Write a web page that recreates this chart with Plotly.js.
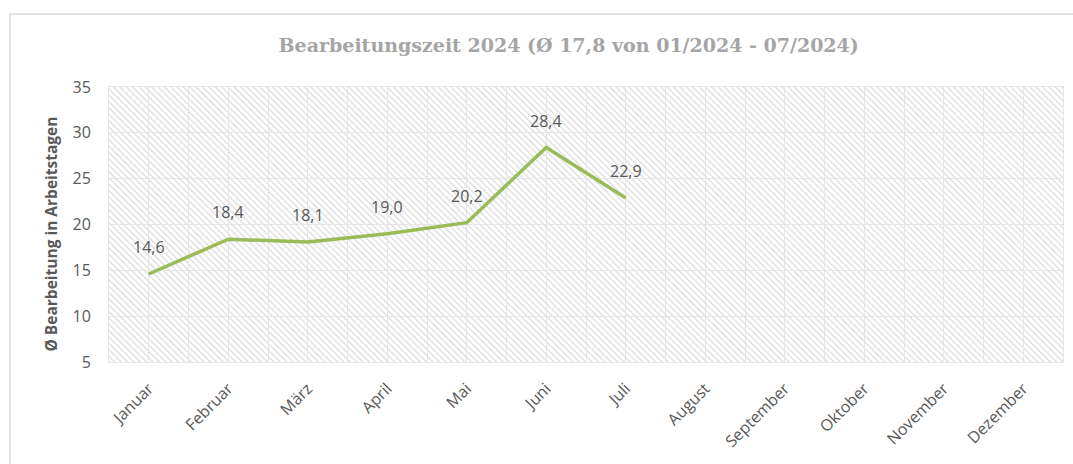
<!DOCTYPE html>
<html>
<head>
<meta charset="utf-8">
<script src="https://cdn.plot.ly/plotly-3.0.1.min.js"></script>
<style>
  html, body { margin: 0; padding: 0; background: #ffffff; overflow: hidden; }
  #frame { position: absolute; left: 9px; top: 13px; width: 1100px; height: 500px; border: 2px solid #e4e4e4; box-sizing: border-box; }
  #chart { position: absolute; left: 0; top: 0; width: 1073px; height: 464px; }
</style>
</head>
<body>
<div id="frame"></div>
<div id="chart"></div>
<script>
// ---- data ----
const months = ["Januar", "Februar", "März", "April", "Mai", "Juni", "Juli",
                "August", "September", "Oktober", "November", "Dezember"];
const monthIndex = [0, 1, 2, 3, 4, 5, 6, 7, 8, 9, 10, 11];
const values = [14.6, 18.4, 18.1, 19.0, 20.2, 28.4, 22.9];
const valueLabels = ["14,6", "18,4", "18,1", "19,0", "20,2", "28,4", "22,9"];
const titleText = "Bearbeitungszeit 2024 (Ø 17,8 von 01/2024 - 07/2024)";
const yTitleText = "Ø Bearbeitung in Arbeitstagen";

const boundaries = monthIndex.map(i => i - 0.5).concat([monthIndex.length - 0.5]);

const trace = {
  x: monthIndex.slice(0, values.length),
  y: values,
  type: "scatter",
  mode: "lines",
  line: { color: "#9bbb59", width: 3.5 },
  hoverinfo: "skip"
};

const annotations = values.map((v, i) => ({
  x: monthIndex[i], y: v, xref: "x", yref: "y",
  text: valueLabels[i], showarrow: false, yshift: 27,
  font: { family: "Open Sans", size: 16, color: "#595959" }
}));
// y axis title (as rotated annotation for exact centring)
annotations.push({
  xref: "paper", yref: "paper", x: 0, y: 0.5, xanchor: "center", yanchor: "middle",
  xshift: -59, yshift: -10, textangle: -90, showarrow: false, text: yTitleText,
  font: { family: "Open Sans", size: 15.5, color: "#595959", weight: "bold" }
});

const gridColor = "#e6e6e6";
const layout = {
  width: 1073, height: 464,
  margin: { l: 109, r: 10, t: 87, b: 102 },
  paper_bgcolor: "rgba(0,0,0,0)",
  plot_bgcolor: "#ffffff",
  showlegend: false,
  title: {
    text: titleText,
    font: { family: "DejaVu Serif", size: 19, color: "#a5a5a5", weight: "bold" },
    xref: "container", x: 0.530, xanchor: "center",
    yref: "container", y: 0.903, yanchor: "middle"
  },
  xaxis: {
    type: "linear",
    range: [-0.5, 11.5],
    tickmode: "array", tickvals: monthIndex, ticktext: months,
    tickangle: -45,
    tickfont: { family: "Open Sans", size: 16, color: "#595959" },
    ticks: "", ticklabelstandoff: 10,
    showgrid: true, gridcolor: gridColor, gridwidth: 1,
    minor: { tickmode: "array", tickvals: boundaries, showgrid: true, gridcolor: gridColor, gridwidth: 1, ticks: "" },
    showline: true, linecolor: gridColor, linewidth: 1, mirror: true,
    zeroline: false, fixedrange: true
  },
  yaxis: {
    range: [5, 35],
    tickmode: "linear", tick0: 5, dtick: 5,
    tickfont: { family: "Open Sans", size: 16, color: "#595959" },
    ticks: "", ticklabelstandoff: 14,
    showgrid: true, gridcolor: gridColor, gridwidth: 1,
    showline: true, linecolor: gridColor, linewidth: 1, mirror: true,
    zeroline: false, fixedrange: true
  },
  annotations: annotations
};

Plotly.newPlot("chart", [trace], layout, { displayModeBar: false, staticPlot: true }).then(function (gd) {
  const svgNS = "http://www.w3.org/2000/svg";
  const svg = gd.querySelector("svg.main-svg");
  let defs = svg.querySelector("defs");
  if (!defs) { defs = document.createElementNS(svgNS, "defs"); svg.insertBefore(defs, svg.firstChild); }
  const pat = document.createElementNS(svgNS, "pattern");
  pat.setAttribute("id", "hatchBg");
  pat.setAttribute("patternUnits", "userSpaceOnUse");
  pat.setAttribute("width", "4.5");
  pat.setAttribute("height", "4.5");
  pat.setAttribute("patternTransform", "rotate(-45)");
  const bgr = document.createElementNS(svgNS, "rect");
  bgr.setAttribute("width", "4.5"); bgr.setAttribute("height", "4.5"); bgr.setAttribute("fill", "#ffffff");
  const ln = document.createElementNS(svgNS, "rect");
  ln.setAttribute("x", "0"); ln.setAttribute("y", "0");
  ln.setAttribute("width", "1.3"); ln.setAttribute("height", "4.5"); ln.setAttribute("fill", "#dddddd");
  pat.appendChild(bgr); pat.appendChild(ln);
  defs.appendChild(pat);
  const bg = gd.querySelector(".bglayer rect.bg");
  if (bg) { bg.style.fill = "url(#hatchBg)"; bg.style.fillOpacity = "1"; }
});
</script>
</body>
</html>
